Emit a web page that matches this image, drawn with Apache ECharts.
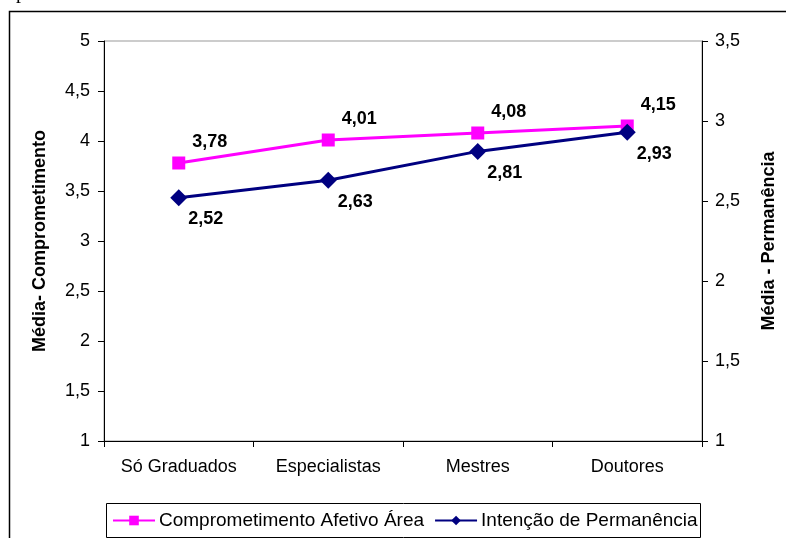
<!DOCTYPE html>
<html>
<head>
<meta charset="utf-8">
<script src="https://cdn.jsdelivr.net/npm/echarts@6/dist/echarts.min.js"></script>
<style>html,body{margin:0;padding:0;background:#fff}#c{width:786px;height:538px}</style>
</head>
<body>
<div id="c"></div>
<script>
var categories = ['Só Graduados', 'Especialistas', 'Mestres', 'Doutores'];
var comprometimento = [3.78, 4.01, 4.08, 4.15];
var permanencia = [2.52, 2.63, 2.81, 2.93];
var leftTicks = [1, 5, 0.5];
var rightTicks = [1, 3.5, 0.5];
var seriesNames = ['Comprometimento Afetivo Área', 'Intenção de Permanência'];
var axisNames = ['Média- Comprometimento', 'Média - Permanência'];

var FONT = '"Liberation Sans", Arial, sans-serif';
function fmt(v){ return String(v).replace('.', ','); }
function fmt2(v){ return v.toFixed(2).replace('.', ','); }

var chart = echarts.init(document.getElementById('c'), null, {renderer:'canvas'});
chart.setOption({
  animation: false,
  backgroundColor: '#fff',
  textStyle: {fontFamily: FONT},
  graphic: [
    {type:'rect', shape:{x:9.5, y:11.5, width:820, height:600}, style:{fill:'none', stroke:'#000', lineWidth:1.5}, z:-10},
    {type:'rect', shape:{x:106.5, y:503.5, width:594, height:34}, style:{fill:'#fff', stroke:'#000', lineWidth:1}, z:-5},
    {type:'text', left:16, top:-17, style:{text:'permanência na área', font:'20px "Liberation Serif", serif', fill:'#000'}}
  ],
  grid: {left:104, right:80, top:41, bottom:97, show:true, borderColor:'#999', borderWidth:1, backgroundColor:'#fff'},
  legend: {
    data: seriesNames,
    left: 112, top: 511,
    itemWidth: 42, itemHeight: 12, itemGap: 10,
    textStyle: {fontSize:19, color:'#000', fontFamily: FONT, padding:[0,0,0,-1]},
    padding: 0
  },
  xAxis: {
    type: 'category', data: categories, boundaryGap: true,
    axisLine: {lineStyle:{color:'#000', width:1}},
    axisTick: {show:true, length:6, interval:0, lineStyle:{color:'#000'}},
    axisLabel: {fontSize:18, color:'#000', margin:17, interval:0, fontFamily: FONT},
    splitLine: {show:false}
  },
  yAxis: [
    {
      type:'value', min:leftTicks[0], max:leftTicks[1], interval:leftTicks[2], position:'left',
      name: axisNames[0], nameLocation:'middle', nameGap:55, nameRotate:90,
      nameTextStyle:{fontSize:18, fontWeight:'bold', color:'#000', fontFamily: FONT},
      axisLine:{show:true, lineStyle:{color:'#000'}},
      axisTick:{show:true, length:6, lineStyle:{color:'#000'}},
      axisLabel:{fontSize:18, color:'#000', margin:14, formatter:fmt, fontFamily: FONT},
      splitLine:{show:false}
    },
    {
      type:'value', min:rightTicks[0], max:rightTicks[1], interval:rightTicks[2], position:'right',
      name: axisNames[1], nameLocation:'middle', nameGap:58, nameRotate:90,
      nameTextStyle:{fontSize:18, fontWeight:'bold', color:'#000', fontFamily: FONT},
      axisLine:{show:true, lineStyle:{color:'#000'}},
      axisTick:{show:true, length:6, lineStyle:{color:'#000'}},
      axisLabel:{fontSize:18, color:'#000', margin:13, formatter:fmt, fontFamily: FONT},
      splitLine:{show:false}
    }
  ],
  series: [
    {
      name: seriesNames[0], type:'line', yAxisIndex:0, data: comprometimento,
      symbol:'rect', symbolSize:13,
      lineStyle:{color:'#FF00FF', width:3}, itemStyle:{color:'#FF00FF'},
      label:{show:true, position:'top', distance:5, offset:[31,0], formatter:function(p){return fmt2(p.value);},
        fontSize:18, fontWeight:'bold', color:'#000', fontFamily: FONT}
    },
    {
      name: seriesNames[1], type:'line', yAxisIndex:1, data: permanencia,
      symbol:'diamond', symbolSize:17,
      lineStyle:{color:'#000080', width:3}, itemStyle:{color:'#000080'},
      label:{show:true, position:'bottom', distance:4, offset:[27,0], formatter:function(p){return fmt2(p.value);},
        fontSize:18, fontWeight:'bold', color:'#000', fontFamily: FONT}
    }
  ]
});
</script>
</body>
</html>
